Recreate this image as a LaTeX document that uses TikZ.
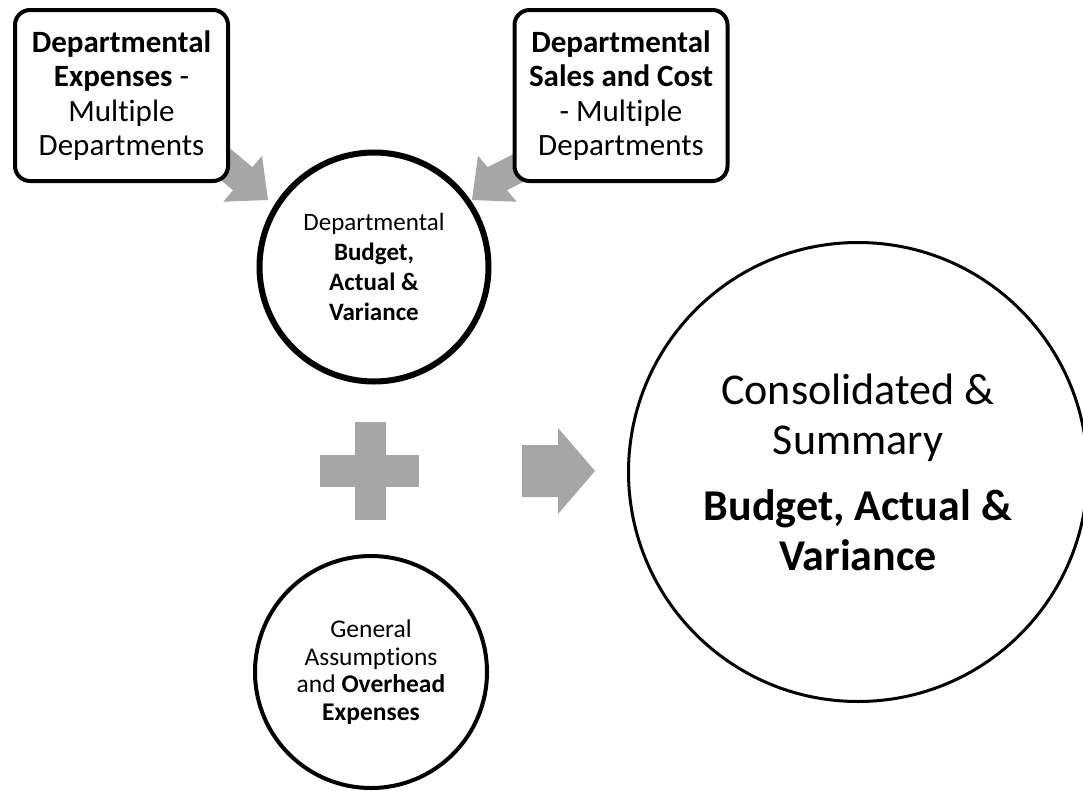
\documentclass[tikz,border=0pt]{standalone}
\usepackage{fontspec}
\setmainfont{Carlito}[Ligatures=NoCommon]
\definecolor{arrowgray}{HTML}{A6A6A6}
\begin{document}
\begin{tikzpicture}[x=1pt,y=-1pt,
  srcbox/.style={draw=black, fill=white, line width=4pt, rounded corners=15pt,
    minimum width=213pt, minimum height=171pt, inner sep=0pt, align=center,
    font=\fontsize{31}{34.5}\selectfont},
  circ/.style={circle, draw=black, fill=white, inner sep=0pt, align=center},
  blockarrow/.style={fill=arrowgray, draw=none}]
\useasboundingbox (0,0) rectangle (1083,790);
\clip (0,0) rectangle (1083,790);

% block arrows (behind the boxes)
\coordinate (a1s1) at (187.0,151.6);
\coordinate (a1s2) at (206.4,128.6);
\fill[blockarrow] (a1s2) -- (252.4,167.2) -- (262.0,155.7) -- (268,200)
  -- (223.4,201.7) -- (233.0,190.2) -- (a1s1) -- cycle;
\coordinate (a2s1) at (583.0,151.6);
\coordinate (a2s2) at (563.6,128.6);
\fill[blockarrow] (a2s2) -- (487.6,167.2) -- (478.0,155.7) -- (472,200)
  -- (516.6,201.7) -- (507.0,190.2) -- (a2s1) -- cycle;

% source boxes
\node[srcbox] (dexp) at (121.5,95.5)
  {\textbf{Departmental}\\\textbf{Expenses} -\\Multiple\\Departments};
\node[srcbox] (dsal) at (621,95.5)
  {\textbf{Departmental}\\\textbf{Sales and Cost}\\- Multiple\\Departments};

% departmental circle
\node[circ, line width=6pt, minimum size=229pt,
  font=\fontsize{25}{30}\selectfont] (dept) at (374,267)
  {Departmental\\\textbf{Budget,}\\\textbf{Actual \&}\\\textbf{Variance}};

% plus sign
\fill[arrowgray] (355,422) rectangle (386,520);
\fill[arrowgray] (320,455) rectangle (419,487);

% right arrow
\fill[blockarrow] (522,445) -- (558,445) -- (558,428) -- (595,471)
  -- (558,514) -- (558,497) -- (522,497) -- cycle;

% general assumptions circle
\node[circ, line width=4pt, minimum size=232pt,
  font=\fontsize{25.5}{27.5}\selectfont] (gen) at (371,672)
  {General\\Assumptions\\and \textbf{Overhead}\\\textbf{Expenses}};

% consolidated circle
\node[circ, line width=3pt, minimum size=459pt,
  font=\fontsize{44}{50}\selectfont] (cons) at (858,472)
  {Consolidated \&\\Summary\\[16pt]\textbf{Budget, Actual \&}\\\textbf{Variance}};
\end{tikzpicture}
\end{document}
